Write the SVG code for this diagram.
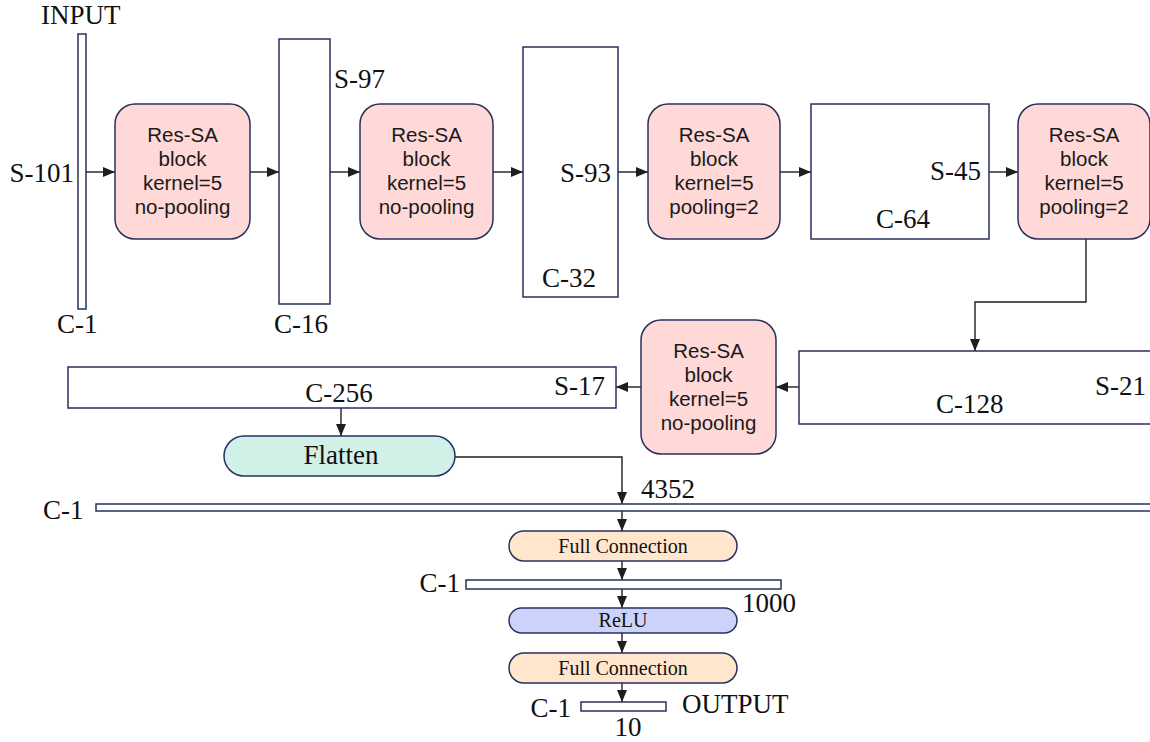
<svg xmlns="http://www.w3.org/2000/svg" width="1150" height="742" viewBox="0 0 1150 742">
  <style>
    .lbl { font-family: "Liberation Serif", "Times New Roman", serif; font-size: 27px; fill: #111; }
    .blk { font-family: "Liberation Sans", Arial, sans-serif; font-size: 20.5px; fill: #1a1a1a; text-anchor: middle; }
    .small { font-family: "Liberation Serif", "Times New Roman", serif; font-size: 20px; fill: #111; text-anchor: middle; }
    .fmap { fill: #ffffff; stroke: #283060; stroke-width: 1.5; }
    .res { fill: #ffd8d8; stroke: #283060; stroke-width: 1.5; }
    .flat { fill: #d0f0e8; stroke: #283060; stroke-width: 1.5; }
    .fc { fill: #ffe6cc; stroke: #283060; stroke-width: 1.5; }
    .relu { fill: #ccd3fa; stroke: #283060; stroke-width: 1.5; }
    .edge { fill: none; stroke: #1e1e1e; stroke-width: 1.4; marker-end: url(#arrow); }
  </style>
  <defs>
    <marker id="arrow" markerUnits="userSpaceOnUse" markerWidth="13" markerHeight="11" refX="12" refY="5" orient="auto">
      <path d="M0,0 L12,5 L0,10 z" fill="#1e1e1e"/>
    </marker>
  </defs>
  <rect width="1150" height="742" fill="#ffffff"/>

  <!-- connectors -->
  <g id="connectors">
    <path class="edge" d="M86,172 H115"/>
    <path class="edge" d="M250,172 H279"/>
    <path class="edge" d="M330,172 H360"/>
    <path class="edge" d="M493,172 H523"/>
    <path class="edge" d="M618,172 H648"/>
    <path class="edge" d="M780,172 H811"/>
    <path class="edge" d="M989,172 H1018"/>
    <path class="edge" d="M1086,239 V302 H975 V351"/>
    <path class="edge" d="M799,387 H776"/>
    <path class="edge" d="M641,387 H616"/>
    <path class="edge" d="M341,408 V436"/>
    <path class="edge" d="M455,457 H622 V504"/>
    <path class="edge" d="M622,511 V531"/>
    <path class="edge" d="M622,561 V580"/>
    <path class="edge" d="M622,589 V608"/>
    <path class="edge" d="M622,633 V653"/>
    <path class="edge" d="M622,683 V702"/>
  </g>

  <!-- input feature map -->
  <g id="input">
    <rect class="fmap" x="78" y="34" width="8" height="275"/>
    <text class="lbl" x="41" y="24">INPUT</text>
    <text class="lbl" x="74" y="182" text-anchor="end">S-101</text>
    <text class="lbl" x="57" y="333">C-1</text>
  </g>

  <g id="block1">
    <rect class="res" x="115" y="104" width="135" height="135" rx="20"/>
    <text class="blk" x="182.5" y="142">Res-SA</text>
    <text class="blk" x="182.5" y="166">block</text>
    <text class="blk" x="182.5" y="190">kernel=5</text>
    <text class="blk" x="182.5" y="214">no-pooling</text>
  </g>

  <g id="fmap16">
    <rect class="fmap" x="279" y="39" width="51" height="265"/>
    <text class="lbl" x="334" y="88">S-97</text>
    <text class="lbl" x="274" y="333">C-16</text>
  </g>

  <g id="block2">
    <rect class="res" x="360" y="104" width="133" height="135" rx="20"/>
    <text class="blk" x="426.5" y="142">Res-SA</text>
    <text class="blk" x="426.5" y="166">block</text>
    <text class="blk" x="426.5" y="190">kernel=5</text>
    <text class="blk" x="426.5" y="214">no-pooling</text>
  </g>

  <g id="fmap32">
    <rect class="fmap" x="523" y="47" width="95" height="250"/>
    <text class="lbl" x="611" y="182" text-anchor="end">S-93</text>
    <text class="lbl" x="542" y="287">C-32</text>
  </g>

  <g id="block3">
    <rect class="res" x="648" y="104" width="132" height="135" rx="20"/>
    <text class="blk" x="714" y="142">Res-SA</text>
    <text class="blk" x="714" y="166">block</text>
    <text class="blk" x="714" y="190">kernel=5</text>
    <text class="blk" x="714" y="214">pooling=2</text>
  </g>

  <g id="fmap64">
    <rect class="fmap" x="811" y="104" width="178" height="135"/>
    <text class="lbl" x="981" y="180" text-anchor="end">S-45</text>
    <text class="lbl" x="876" y="228">C-64</text>
  </g>

  <g id="block4">
    <rect class="res" x="1018" y="104" width="132" height="135" rx="20"/>
    <text class="blk" x="1084" y="142">Res-SA</text>
    <text class="blk" x="1084" y="166">block</text>
    <text class="blk" x="1084" y="190">kernel=5</text>
    <text class="blk" x="1084" y="214">pooling=2</text>
  </g>

  <g id="fmap128">
    <rect class="fmap" x="799" y="351" width="360" height="73"/>
    <text class="lbl" x="1146" y="395" text-anchor="end">S-21</text>
    <text class="lbl" x="936" y="413">C-128</text>
  </g>

  <g id="block5">
    <rect class="res" x="641" y="320" width="135" height="134" rx="20"/>
    <text class="blk" x="708.5" y="358">Res-SA</text>
    <text class="blk" x="708.5" y="382">block</text>
    <text class="blk" x="708.5" y="406">kernel=5</text>
    <text class="blk" x="708.5" y="430">no-pooling</text>
  </g>

  <g id="fmap256">
    <rect class="fmap" x="68" y="367" width="548" height="41"/>
    <text class="lbl" x="605" y="395" text-anchor="end">S-17</text>
    <text class="lbl" x="339" y="402" text-anchor="middle">C-256</text>
  </g>

  <g id="flatten">
    <rect class="flat" x="224" y="436" width="231" height="40" rx="20"/>
    <text class="lbl" x="341" y="464" text-anchor="middle" font-size="26">Flatten</text>
  </g>

  <g id="vec4352">
    <rect class="fmap" x="96" y="504" width="1060" height="7"/>
    <text class="lbl" x="43" y="519">C-1</text>
    <text class="lbl" x="641" y="498">4352</text>
  </g>

  <g id="fc1">
    <rect class="fc" x="509" y="531" width="228" height="30" rx="15"/>
    <text class="small" x="623" y="553">Full Connection</text>
  </g>

  <g id="vec1000">
    <rect class="fmap" x="466" y="580" width="315" height="9"/>
    <text class="lbl" x="460" y="592" text-anchor="end">C-1</text>
    <text class="lbl" x="742" y="612">1000</text>
  </g>

  <g id="relu">
    <rect class="relu" x="509" y="608" width="228" height="25" rx="12.5"/>
    <text class="small" x="623" y="627" font-size="19">ReLU</text>
  </g>

  <g id="fc2">
    <rect class="fc" x="509" y="653" width="228" height="30" rx="15"/>
    <text class="small" x="623" y="675">Full Connection</text>
  </g>

  <g id="output">
    <rect class="fmap" x="581" y="702" width="85" height="9"/>
    <text class="lbl" x="571" y="717" text-anchor="end">C-1</text>
    <text class="lbl" x="682" y="713">OUTPUT</text>
    <text class="lbl" x="628" y="736" text-anchor="middle">10</text>
  </g>
</svg>
